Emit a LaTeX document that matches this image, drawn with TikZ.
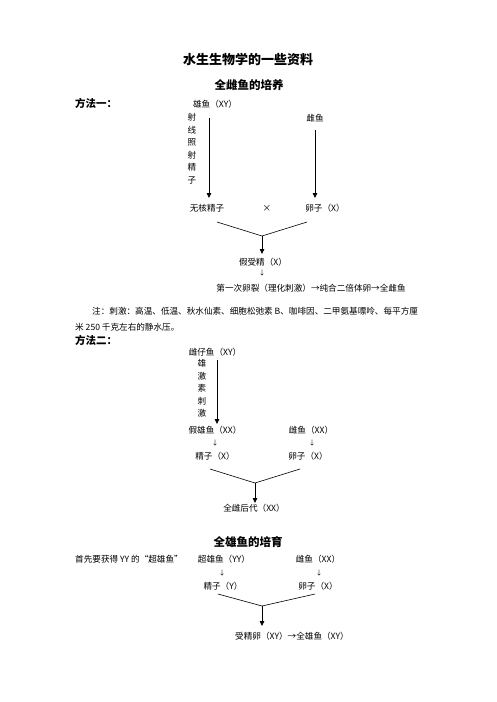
\documentclass[tikz,border=0pt]{standalone}
\usepackage{fontspec}
\setmainfont{Liberation Serif}
\newfontfamily\cjk{Noto Sans CJK SC}
\usetikzlibrary{arrows.meta, positioning}

\tikzset{
  txt/.style={font=\cjk\fontsize{8.6}{10}\selectfont, inner sep=0pt},
  vtxt/.style={txt, align=center, font=\cjk\fontsize{8.6}{12.6}\selectfont},
  down/.style={font=\cjk\fontsize{6.5}{7}\selectfont, inner sep=0pt},
  sect/.style={font=\cjk\bfseries\fontsize{10.5}{12}\selectfont, inner sep=0pt, anchor=west},
  head/.style={font=\cjk\bfseries\fontsize{11.5}{13}\selectfont, inner sep=0pt},
  longarrow/.style={line width=0.8pt, -{Triangle[length=5pt,width=4.5pt]}},
  yline/.style={line width=0.6pt},
}

\begin{document}
\begin{tikzpicture}[x=1pt,y=-1pt]
\useasboundingbox (0,0) rectangle (496,702);

% titles
\node[head, font=\cjk\bfseries\fontsize{13}{15}\selectfont] (title) at (248,60) {水生生物学的一些资料};
\node[head] (female) at (249,85) {全雌鱼的培养};

% method 1
\node[sect] (m1) at (75,103) {方法一：};
\node[txt] (male1) at (215,104) {雄鱼（XY）};
\node[vtxt, anchor=north] (ray) at (192,113) {射\\线\\照\\射\\精\\子};
\node[txt] (fem1) at (315,118) {雌鱼};
\node[txt] (sperm1) at (207,208) {无核精子};
\node[txt] (cross) at (267,208) {×};
\node[txt] (egg1) at (325,208) {卵子（X）};
\node[txt] (pseudo) at (263,262) {假受精（X）};
\node[down] (dn1) at (262,273) {↓};
\node[txt] (result1) at (311,288) {第一次卵裂（理化刺激）→纯合二倍体卵→全雌鱼};

\coordinate (a1s) at (209,118);
\coordinate (a1e) at (209,198);
\coordinate (a2s) at (315,130);
\coordinate (a2e) at (315,198);
\coordinate (y1l) at (217,222);
\coordinate (y1r) at (307,222);
\coordinate (y1m) at (262,236);
\coordinate (y1e) at (262,254);

\draw[longarrow] (a1s) -- (a1e);
\draw[longarrow] (a2s) -- (a2e);
\draw[yline] (y1l) -- (y1m) -- (y1r);
\draw[longarrow] (y1m) -- (y1e);

% note
\node[txt, anchor=west] (note1) at (92,311) {注：刺激：高温、低温、秋水仙素、细胞松弛素 B、咖啡因、二甲氨基嘌呤、每平方厘};
\node[txt, anchor=west] (note2) at (75,327) {米 250 千克左右的静水压。};

% method 2
\node[sect] (m2) at (75,340) {方法二：};
\node[txt] (young) at (215,352) {雌仔鱼（XY）};
\node[vtxt, anchor=north] (horm) at (202,359) {雄\\激\\素\\刺\\激};
\node[txt] (fmale) at (215,430) {假雄鱼（XX）};
\node[txt] (fem2) at (311,430) {雌鱼（XX）};
\node[down] (dn2) at (215,443) {↓};
\node[down] (dn3) at (312,443) {↓};
\node[txt] (sperm2) at (215,456) {精子（X）};
\node[txt] (egg2) at (308,456) {卵子（X）};
\node[txt] (result2) at (254,508) {全雌后代（XX）};

\coordinate (a3s) at (217,360);
\coordinate (a3e) at (217,424);
\coordinate (y2l) at (210,469);
\coordinate (y2r) at (300,469);
\coordinate (y2m) at (255,483);
\coordinate (y2e) at (255,503);

\draw[longarrow] (a3s) -- (a3e);
\draw[yline] (y2l) -- (y2m) -- (y2r);
\draw[longarrow] (y2m) -- (y2e);

% all-male
\node[head] (male) at (248,542) {全雄鱼的培育};
\node[txt, anchor=west] (first) at (75,559) {首先要获得 YY 的“超雄鱼”};
\node[txt] (super) at (224,559) {超雄鱼（YY）};
\node[txt] (fem3) at (318,559) {雌鱼（XX）};
\node[down] (dn4) at (222,573) {↓};
\node[down] (dn5) at (319,573) {↓};
\node[txt] (sperm3) at (223,586) {精子（Y）};
\node[txt] (egg3) at (318,586) {卵子（X）};
\node[txt] (result3) at (292,636) {受精卵（XY）→全雄鱼（XY）};

\coordinate (y3l) at (218,594);
\coordinate (y3r) at (315,594);
\coordinate (y3m) at (262,606);
\coordinate (y3e) at (262,626);

\draw[yline] (y3l) -- (y3m) -- (y3r);
\draw[longarrow] (y3m) -- (y3e);
\end{tikzpicture}
\end{document}
